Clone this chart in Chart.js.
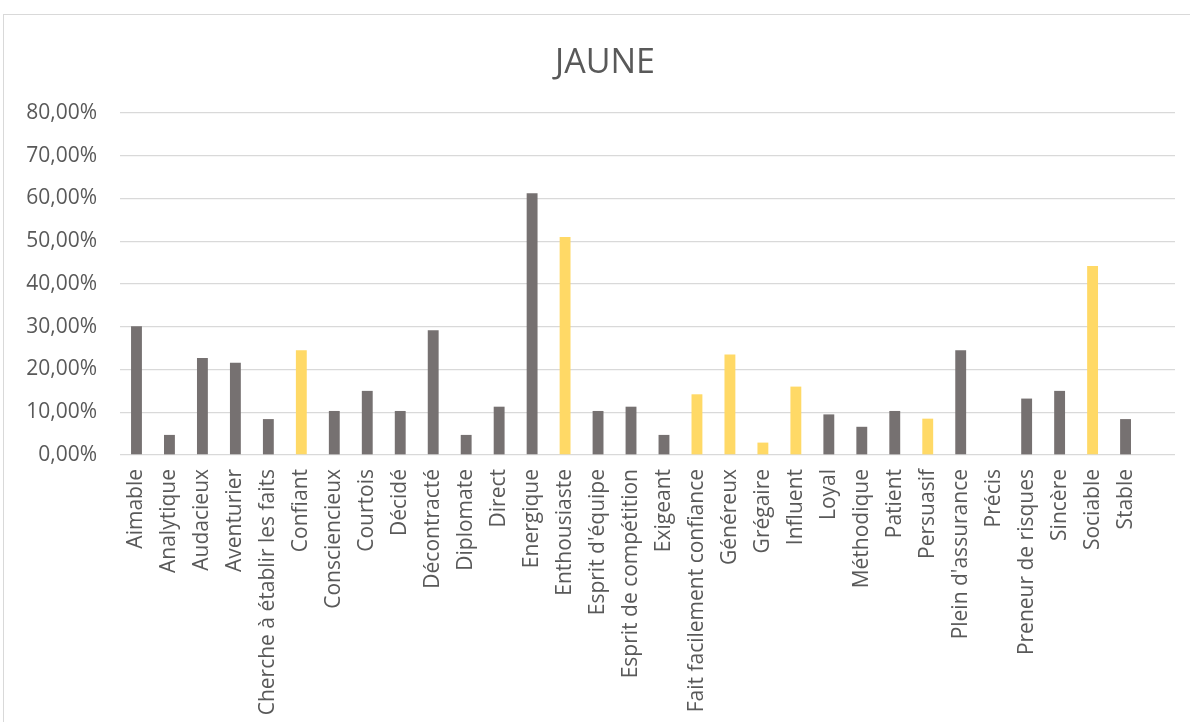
<!DOCTYPE html>
<html>
<head>
<meta charset="utf-8">
<script src="https://cdn.jsdelivr.net/npm/chart.js@4/dist/chart.umd.min.js"></script>
<style>
  body { margin: 0; background: #fff; overflow: hidden; }
  #wrap { position: relative; width: 1190px; height: 722px; overflow: hidden; }
  #cadre { position: absolute; left: 3px; top: 14px; width: 1200px; height: 720px; border: 1px solid #d9d9d9; }
  #graf { position: absolute; left: 0; top: 0; }
  #titre { position: absolute; left: 455px; width: 300px; top: 40px; line-height: 40px;
    text-align: center; font-family: 'Open Sans'; font-size: 34px; color: #595959; }
</style>
</head>
<body>
<div id="wrap">
  <div id="cadre"></div>
  <canvas id="graf" width="1190" height="722"></canvas>
  <div id="titre">JAUNE</div>
</div>
<script>
// valeurs (en %), la derniere categorie est vide
var categories = ["Aimable", "Analytique", "Audacieux", "Aventurier", "Cherche à établir les faits",
  "Confiant", "Consciencieux", "Courtois", "Décidé", "Décontracté", "Diplomate", "Direct",
  "Energique", "Enthousiaste", "Esprit d'équipe", "Esprit de compétition", "Exigeant",
  "Fait facilement confiance", "Généreux", "Grégaire", "Influent", "Loyal", "Méthodique",
  "Patient", "Persuasif", "Plein d'assurance", "Précis", "Preneur de risques", "Sincère",
  "Sociable", "Stable", ""];
var valeurs = [30.1, 4.7, 22.7, 21.6, 8.4,
  24.5, 10.3, 15.0, 10.3, 29.2, 4.7, 11.3,
  61.2, 51.0, 10.3, 11.3, 4.7,
  14.2, 23.5, 2.9, 16.0, 9.5, 6.6,
  10.3, 8.5, 24.5, 0, 13.2, 15.0,
  44.2, 8.4, null];
// traits "jaunes" mis en couleur
var jaunes = ["Confiant", "Enthousiaste", "Fait facilement confiance", "Généreux", "Grégaire",
  "Influent", "Persuasif", "Sociable"];
var ticksY = [0, 10, 20, 30, 40, 50, 60, 70, 80];

var couleurs = categories.map(function (c) {
  return jaunes.indexOf(c) >= 0 ? "#ffd966" : "#767171";
});

function formatPct(v) {
  return v.toFixed(2).replace(".", ",") + "%";
}

new Chart(document.getElementById("graf"), {
  type: "bar",
  data: {
    labels: categories,
    datasets: [{
      data: valeurs,
      backgroundColor: couleurs,
      barPercentage: 0.33,
      categoryPercentage: 1
    }]
  },
  options: {
    responsive: false,
    animation: false,
    layout: { padding: { left: 0, right: 15, top: 113, bottom: 0 } },
    plugins: {
      legend: { display: false },
      tooltip: { enabled: false },
      title: { display: false }
    },
    scales: {
      x: {
        grid: { display: false, drawTicks: false },
        border: { display: false },
        ticks: {
          autoSkip: false, maxRotation: 90, minRotation: 90, padding: 14,
          color: "#595959", font: { family: "'Open Sans'", size: 21 }
        },
        afterFit: function (axis) {
          axis.height = 267;
          axis.paddingLeft = 0;
          axis.paddingRight = 0;
        }
      },
      y: {
        min: 0, max: 80,
        afterBuildTicks: function (axis) {
          axis.ticks = ticksY.map(function (v) { return { value: v }; });
        },
        grid: { color: "#d9d9d9", lineWidth: 1.3, drawTicks: false },
        border: { display: false },
        ticks: {
          padding: 23, color: "#595959",
          font: { family: "'Open Sans'", size: 21 },
          callback: function (v) { return formatPct(v); }
        },
        afterFit: function (axis) {
          axis.width = 120;
          axis.paddingTop = 0;
          axis.paddingBottom = 0;
        }
      }
    }
  }
});
</script>
</body>
</html>
